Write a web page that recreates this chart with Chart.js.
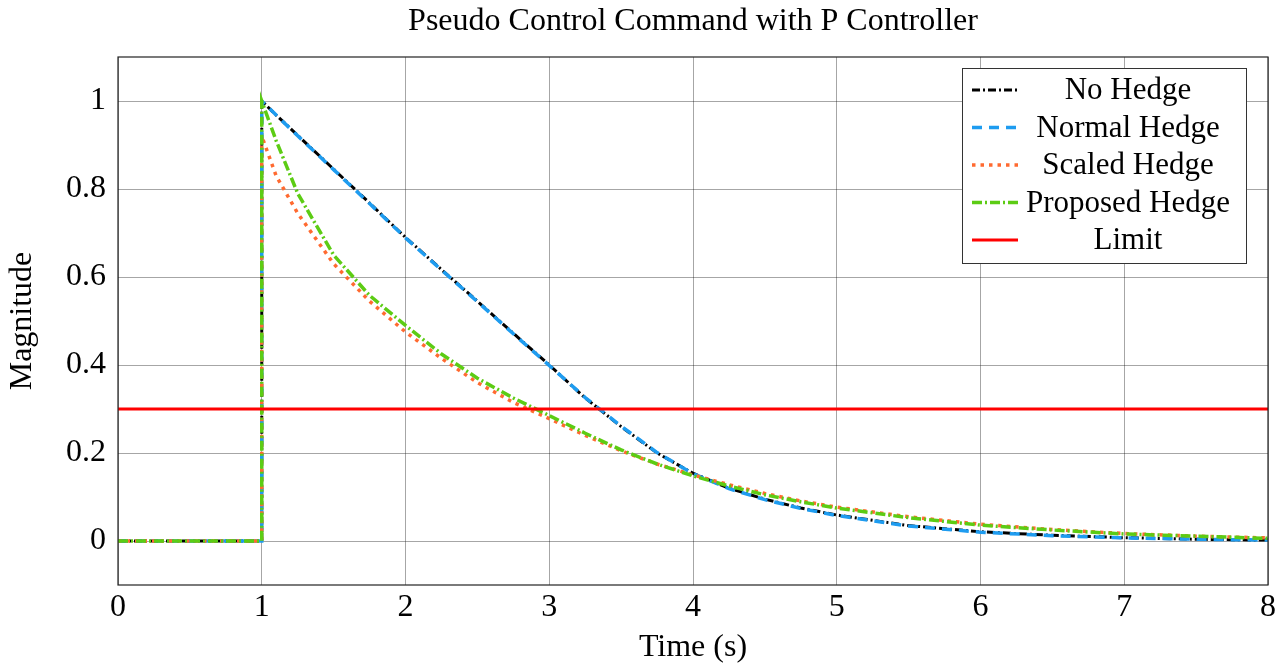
<!DOCTYPE html>
<html>
<head>
<meta charset="utf-8">
<script src="https://cdn.jsdelivr.net/npm/chart.js@4/dist/chart.umd.min.js"></script>
<style>
  body { margin: 0; background: #fff; }
  #wrap { width: 1284px; height: 665px; }
</style>
</head>
<body>
<div id="wrap"><canvas id="cmdChart" width="1284" height="665"></canvas></div>
<script>
// time samples (s), shared by the four command series
const timeS = [0, 1, 1, 1.1, 1.25, 1.5, 1.75, 2, 2.25, 2.5, 2.75, 3, 3.25, 3.5, 3.75, 4, 4.25, 4.5, 4.75, 5, 5.5, 6, 6.5, 7, 7.5, 8];

const noHedge       = [0, 0, 1, 0.968, 0.922, 0.845, 0.768, 0.690, 0.617, 0.545, 0.472, 0.400, 0.325, 0.260, 0.200, 0.154, 0.120, 0.095, 0.075, 0.059, 0.035, 0.021, 0.013, 0.0075, 0.004, 0.002];
const normalHedge   = [0, 0, 1, 0.968, 0.921, 0.844, 0.767, 0.689, 0.616, 0.544, 0.471, 0.399, 0.326, 0.261, 0.201, 0.153, 0.119, 0.094, 0.074, 0.058, 0.034, 0.020, 0.012, 0.007, 0.004, 0.002];
const scaledHedge   = [0, 0, 0.92, 0.83, 0.745, 0.63, 0.545, 0.475, 0.415, 0.36, 0.315, 0.278, 0.24, 0.205, 0.175, 0.15, 0.128, 0.108, 0.091, 0.077, 0.055, 0.038, 0.026, 0.017, 0.011, 0.007];
const proposedHedge = [0, 0, 1, 0.91, 0.79, 0.65, 0.558, 0.49, 0.425, 0.37, 0.325, 0.285, 0.245, 0.207, 0.175, 0.148, 0.125, 0.105, 0.089, 0.075, 0.053, 0.036, 0.025, 0.016, 0.011, 0.006];

const limitT = [0, 8];
const limitY = [0.3, 0.3];

const xTicks = [0, 1, 2, 3, 4, 5, 6, 7, 8];
const yTicks = [0, 0.2, 0.4, 0.6, 0.8, 1];

const serif = "'Liberation Serif', 'DejaVu Serif', serif";

function pts(xs, ys) {
    return xs.map((x, i) => ({ x: x, y: ys[i] }));
}

function line(label, xs, ys, color, dash, width, order) {
    return {
        label: label,
        data: pts(xs, ys),
        borderColor: color,
        backgroundColor: color,
        borderWidth: width,
        borderDash: dash,
        pointRadius: 0,
        tension: 0,
        fill: false,
        order: order
    };
}

// frame round the plot area + legend box inside it (top right)
const frameAndLegend = {
    id: 'frameAndLegend',
    afterDraw(chart) {
        const { ctx, chartArea: a } = chart;
        ctx.save();
        ctx.strokeStyle = '#222';
        ctx.lineWidth = 1.2;
        ctx.setLineDash([]);
        ctx.strokeRect(a.left, a.top, a.right - a.left, a.bottom - a.top);

        const bx = 962, by = 68, bw = 284, bh = 195;
        ctx.fillStyle = '#fff';
        ctx.fillRect(bx, by, bw, bh);
        ctx.strokeStyle = '#333';
        ctx.lineWidth = 1;
        ctx.strokeRect(bx + 0.5, by + 0.5, bw, bh);

        ctx.font = '31px ' + serif;
        ctx.textAlign = 'center';
        ctx.textBaseline = 'middle';
        chart.data.datasets.forEach((ds, i) => {
            const y = by + 22 + i * 37.5;
            ctx.strokeStyle = ds.borderColor;
            ctx.lineWidth = ds.borderWidth;
            ctx.setLineDash(ds.borderDash || []);
            ctx.beginPath();
            ctx.moveTo(bx + 10, y);
            ctx.lineTo(bx + 56, y);
            ctx.stroke();
            ctx.setLineDash([]);
            ctx.fillStyle = '#000';
            ctx.fillText(ds.label, bx + 166, y + 1);
        });
        ctx.restore();
    }
};

new Chart(document.getElementById('cmdChart'), {
    type: 'line',
    data: {
        datasets: [
            line('No Hedge', timeS, noHedge, '#000000', [8, 3, 2, 3], 3, 4),
            line('Normal Hedge', timeS, normalHedge, '#1e9cf0', [10, 7], 3.5, 3),
            line('Scaled Hedge', timeS, scaledHedge, '#ff6a30', [3.5, 5], 3.5, 2),
            line('Proposed Hedge', timeS, proposedHedge, '#5ccc14', [10, 3, 2, 3], 3.5, 1),
            line('Limit', limitT, limitY, '#ff0000', [], 3, 0)
        ]
    },
    options: {
        responsive: false,
        animation: false,
        layout: { padding: { left: 0, right: 16, top: 0, bottom: 0 } },
        plugins: {
            legend: { display: false },
            tooltip: { enabled: false },
            title: {
                display: true,
                fullSize: false,
                text: 'Pseudo Control Command with P Controller',
                color: '#000',
                font: { family: serif, size: 32, weight: 'normal' },
                padding: { top: 2, bottom: 16.6 }
            }
        },
        scales: {
            x: {
                type: 'linear',
                min: 0,
                max: 8,
                afterBuildTicks: s => { s.ticks = xTicks.map(v => ({ value: v })); },
                afterFit: s => { s.height = 80; },
                grid: { color: 'rgba(0,0,0,0.35)', lineWidth: 1, drawTicks: false },
                border: { display: false },
                ticks: { color: '#000', font: { family: serif, size: 32 }, padding: 3, maxRotation: 0 },
                title: { display: true, text: 'Time (s)', color: '#000', font: { family: serif, size: 32 }, padding: { top: 0, bottom: -2 } }
            },
            y: {
                type: 'linear',
                min: -0.1,
                max: 1.1,
                afterBuildTicks: s => { s.ticks = yTicks.map(v => ({ value: v })); },
                afterFit: s => { s.width = 118; },
                grid: { color: 'rgba(0,0,0,0.35)', lineWidth: 1, drawTicks: false },
                border: { display: false },
                ticks: { color: '#000', font: { family: serif, size: 32 }, padding: 12, callback: v => String(v) },
                title: { display: true, text: 'Magnitude', color: '#000', font: { family: serif, size: 32 }, padding: { top: 3, bottom: 0 } }
            }
        }
    },
    plugins: [frameAndLegend]
});
</script>
</body>
</html>
